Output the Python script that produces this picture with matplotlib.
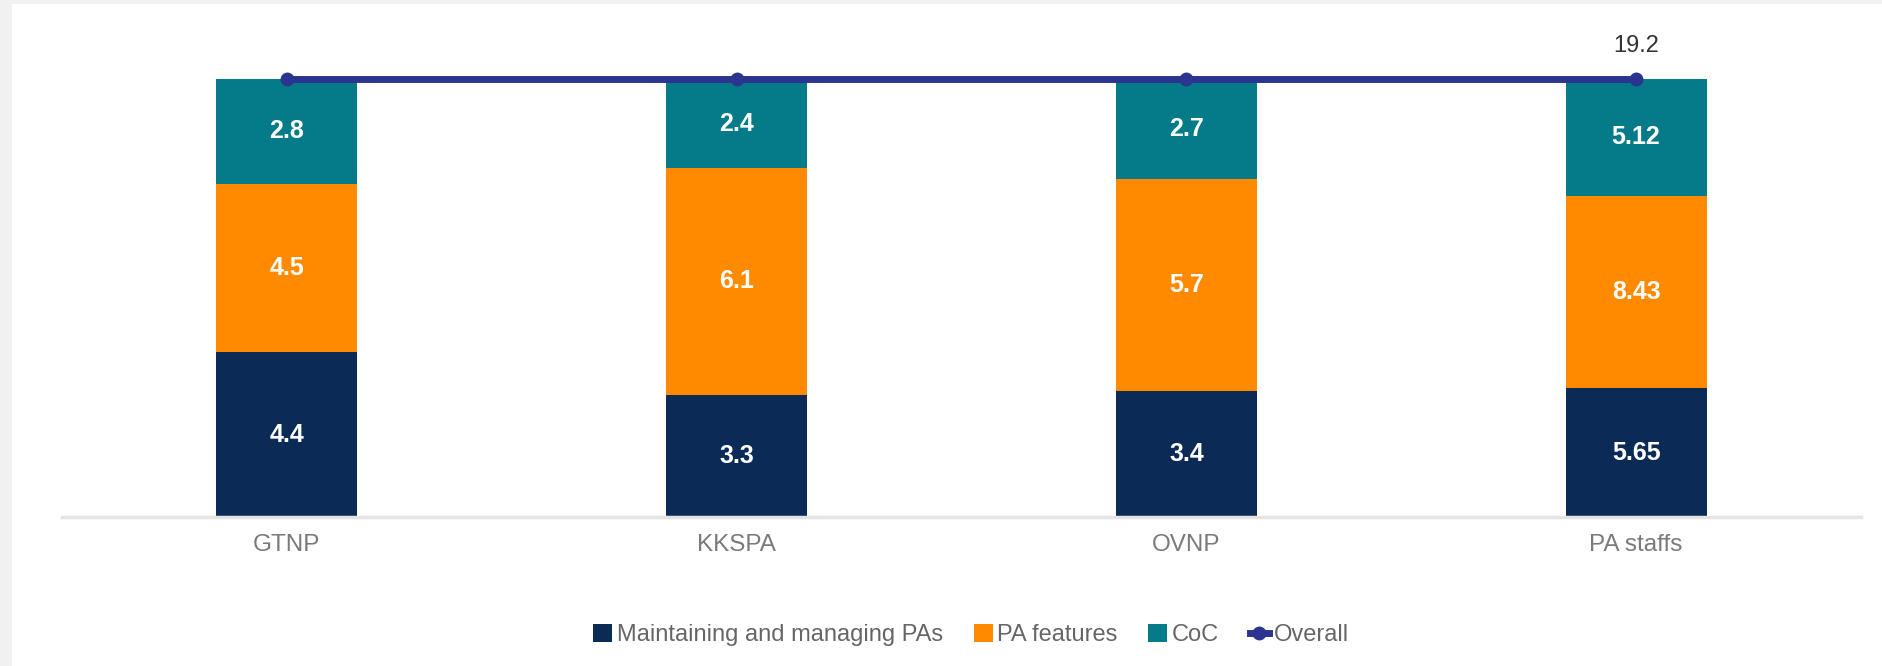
import numpy as np
import matplotlib.pyplot as plt
from matplotlib.patches import Rectangle

# --- data ---
categories = ['GTNP', 'KKSPA', 'OVNP', 'PA staffs']
maintaining = [4.4, 3.3, 3.4, 5.65]
features = [4.5, 6.1, 5.7, 8.43]
coc = [2.8, 2.4, 2.7, 5.12]
overall = [11.7, 11.8, 11.8, 19.2]
overall_labels = ['', '', '', '19.2']

c_navy = '#0b2a56'
c_orange = '#ff8a00'
c_teal = '#057a88'
c_line = '#2b3590'

plt.rcParams['font.family'] = ['Liberation Sans', 'DejaVu Sans']

fig = plt.figure(figsize=(18.83, 6.66), dpi=100)
fig.patch.set_facecolor('#f1f1f1')
# white panel behind everything
fig.patches.append(Rectangle((12 / 1883, 0), 1, 1 - 4 / 666, transform=fig.transFigure,
                             facecolor='white', edgecolor='none', zorder=-5))

ax = fig.add_axes([62 / 1883, 1 - 517 / 666, (1861 - 62) / 1883, (517 - 79) / 666])
ax.set_zorder(2)
ax.set_facecolor('none')

x = np.arange(len(categories))
totals = np.array(maintaining) + np.array(features) + np.array(coc)
p1 = np.array(maintaining) / totals * 100
p2 = np.array(features) / totals * 100
p3 = np.array(coc) / totals * 100
pov = np.array(overall) / totals * 100

w = 0.313
b1 = ax.bar(x, p1, w, color=c_navy, label='Maintaining and managing PAs', zorder=2)
b2 = ax.bar(x, p2, w, bottom=p1, color=c_orange, label='PA features', zorder=2)
b3 = ax.bar(x, p3, w, bottom=p1 + p2, color=c_teal, label='CoC', zorder=2)

for bars, vals in [(b1, maintaining), (b2, features), (b3, coc)]:
    for rect, v in zip(bars, vals):
        ax.text(rect.get_x() + rect.get_width() / 2, rect.get_y() + rect.get_height() / 2,
                f'{v:g}', ha='center', va='center', color='white',
                fontsize=18, fontweight='bold', zorder=3)

ax.plot(x, pov, color=c_line, lw=5, marker='o', markersize=9, label='Overall',
        zorder=4, clip_on=False)
for xi, yi, lab in zip(x, pov, overall_labels):
    if lab:
        ax.annotate(lab, (xi, yi), xytext=(0, 16), textcoords='offset points',
                    ha='center', va='bottom', fontsize=17, color='#333333')

ax.set_xlim(-0.5, 3.5)
ax.set_ylim(0, 100)
ax.set_xticks(x)
ax.set_xticklabels(categories, fontsize=17.5, color='#7a7a7a')
ax.tick_params(axis='x', length=0, pad=12)
ax.set_yticks([])
for s in ['top', 'right', 'left']:
    ax.spines[s].set_visible(False)
ax.spines['bottom'].set_color('#e4e4e4')
ax.spines['bottom'].set_linewidth(2.5)

leg = fig.legend(handles=[b1, b2, b3, ax.lines[0]], loc='center',
                 bbox_to_anchor=(971 / 1883, 1 - 635 / 666), ncol=4, frameon=False,
                 fontsize=17, handlelength=0.8, handleheight=0.8, handletextpad=0.2,
                 columnspacing=1.3, labelcolor='#666666')

plt.savefig('out.png', dpi=100, facecolor=fig.get_facecolor())
